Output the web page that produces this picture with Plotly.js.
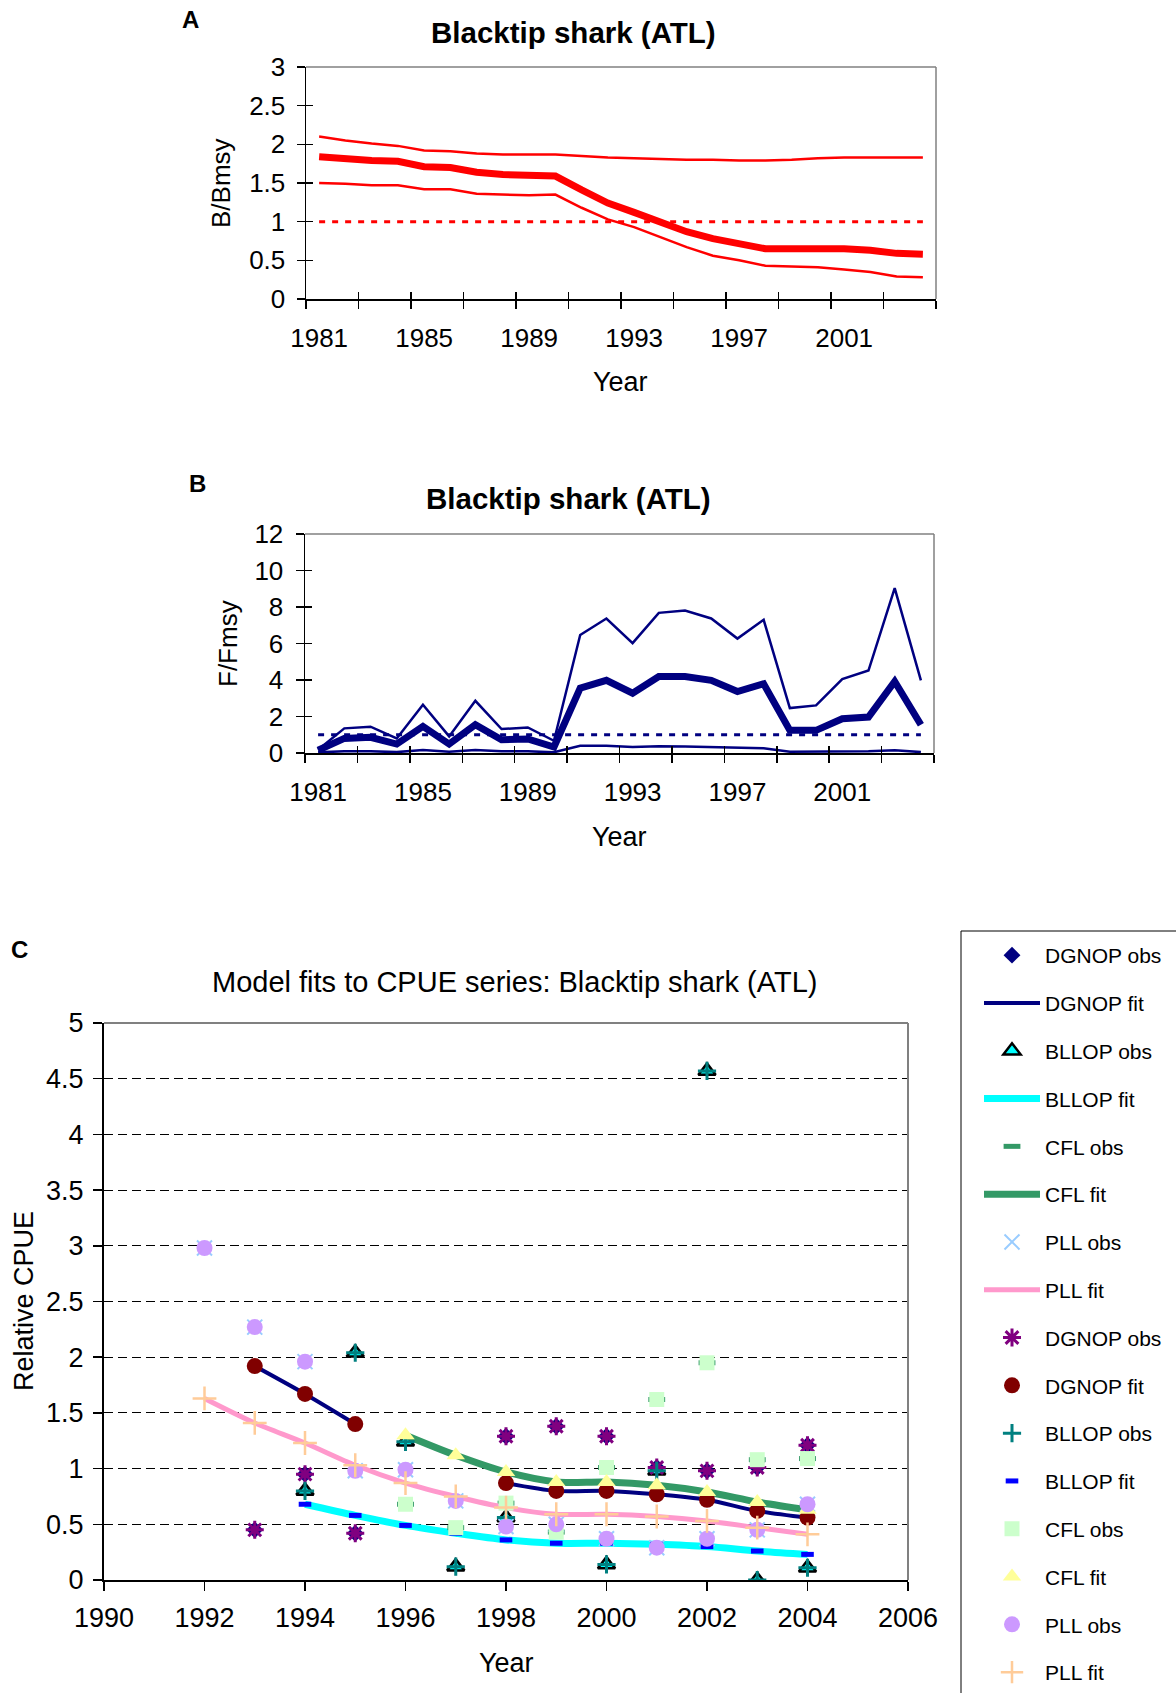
<!DOCTYPE html>
<html>
<head>
<meta charset="utf-8">
<script src="https://cdn.plot.ly/plotly-3.0.1.min.js"></script>
<style>
  html, body { margin: 0; padding: 0; background: #fff; }
  #fig { width: 1176px; height: 1693px; }
</style>
</head>
<body>
<div id="fig"></div>
<script>
// ---------- Panel A / B: stock status, 1981-2004 ----------
const years = [1981, 1982, 1983, 1984, 1985, 1986, 1987, 1988, 1989, 1990, 1991, 1992,
               1993, 1994, 1995, 1996, 1997, 1998, 1999, 2000, 2001, 2002, 2003, 2004];
const yearTickVals = [1981, 1985, 1989, 1993, 1997, 2001];
const yearTickText = ['1981', '1985', '1989', '1993', '1997', '2001'];
const categoryEdges = [1980.5, 1982.5, 1984.5, 1986.5, 1988.5, 1990.5, 1992.5,
                       1994.5, 1996.5, 1998.5, 2000.5, 2002.5, 2004.5];
const referenceLevel = 1;

// B/Bmsy: median and bounds
const bBmsyMid  = [1.84, 1.81, 1.79, 1.78, 1.71, 1.70, 1.64, 1.61, 1.59, 1.59, 1.41, 1.24,
                   1.12, 0.99, 0.87, 0.78, 0.72, 0.65, 0.65, 0.66, 0.65, 0.63, 0.59, 0.58];
const bBmsyHigh = [2.10, 2.05, 2.01, 1.98, 1.92, 1.91, 1.88, 1.87, 1.87, 1.87, 1.85, 1.83,
                   1.82, 1.81, 1.80, 1.80, 1.79, 1.79, 1.80, 1.82, 1.83, 1.83, 1.83, 1.83];
const bBmsyLow  = [1.50, 1.49, 1.47, 1.47, 1.42, 1.42, 1.36, 1.35, 1.34, 1.35, 1.18, 1.03,
                   0.93, 0.80, 0.67, 0.56, 0.50, 0.43, 0.42, 0.41, 0.38, 0.35, 0.29, 0.28];

// F/Fmsy: median and bounds
const fFmsyMid  = [0.15, 0.80, 0.86, 0.49, 1.46, 0.49, 1.55, 0.73, 0.77, 0.33, 3.56, 3.98,
                   3.28, 4.19, 4.19, 3.98, 3.37, 3.79, 1.24, 1.24, 1.88, 1.97, 3.92, 1.55];
const fFmsyHigh = [0.18, 1.35, 1.44, 0.80, 2.64, 0.91, 2.86, 1.31, 1.40, 0.67, 6.47, 7.37,
                   6.02, 7.68, 7.81, 7.37, 6.27, 7.30, 2.46, 2.61, 4.05, 4.52, 9.03, 3.98];
const fFmsyLow  = [0.04, 0.09, 0.09, 0.05, 0.16, 0.07, 0.16, 0.09, 0.09, 0.04, 0.40, 0.40,
                   0.33, 0.37, 0.35, 0.31, 0.26, 0.26, 0.07, 0.07, 0.09, 0.09, 0.15, 0.05];

// ---------- Panel C: CPUE series, 1992-2004 ----------
const cpueYears = [1992, 1993, 1994, 1995, 1996, 1997, 1998, 1999, 2000, 2001, 2002, 2003, 2004];
const dgnopObs = [null, 0.45, 0.95, 0.42, null, null, 1.29, 1.38, 1.29, 1.01, 0.98, 1.01, 1.21];
const dgnopFit = [null, 1.92, 1.67, 1.40, null, null, 0.87, 0.80, 0.80, 0.77, 0.72, 0.62, 0.56];
const bllopObs = [null, null, 0.80, 2.04, 1.24, 0.12, 0.56, null, 0.14, 0.98, 4.57, 0.00, 0.11];
const bllopFit = [null, null, 0.68, 0.58, 0.49, 0.42, 0.36, 0.33, 0.33, 0.32, 0.30, 0.26, 0.23];
const cflObs   = [null, null, null, null, 0.68, 0.47, 0.69, 0.43, 1.01, 1.62, 1.95, 1.08, 1.09];
const cflFit   = [null, null, null, null, 1.30, 1.12, 0.97, 0.88, 0.88, 0.85, 0.79, 0.70, 0.63];
const pllObs   = [2.98, 2.27, 1.96, 0.98, 0.99, 0.71, 0.48, 0.50, 0.37, 0.29, 0.37, 0.45, 0.68];
const pllFit   = [1.63, 1.41, 1.23, 1.03, 0.87, 0.75, 0.65, 0.59, 0.59, 0.57, 0.53, 0.47, 0.41];

// ---------- helpers ----------
const W = 1176, H = 1693;
const px = x => x / W;
const py = y => 1 - y / H;
const FONT = 'Liberation Sans, Arial, Helvetica, sans-serif';
const RED = '#FF0000', NAVY = '#000080';

function line(x, y, xa, ya, color, width, dash) {
  return {
    type: 'scatter', mode: 'lines', x: x, y: y, xaxis: xa, yaxis: ya,
    line: { color: color, width: width, dash: dash || 'solid' },
    showlegend: false, hoverinfo: 'skip'
  };
}
function empty(xa, ya) {
  return { type: 'scatter', mode: 'none', x: [], y: [], xaxis: xa, yaxis: ya,
           showlegend: false, hoverinfo: 'skip' };
}
let groupId = 0;
function cpueLine(name, y, color, width) {
  return {
    type: 'scatter', mode: 'lines', name: name, x: cpueYears, y: y,
    xaxis: 'x3', yaxis: 'y3', legendgroup: 'g' + (groupId++),
    line: { color: color, width: width, shape: 'spline', smoothing: 0.8 },
    hoverinfo: 'name+x+y'
  };
}
function cpueMarker(name, y, marker) {
  return {
    type: 'scatter', mode: 'markers', name: name, x: cpueYears, y: y,
    xaxis: 'x3', yaxis: 'y3', legendgroup: 'g' + (groupId++),
    marker: marker, hoverinfo: 'name+x+y'
  };
}
const refLine = years.map(() => referenceLevel);

const traces = [
  // Panel A
  line(years, bBmsyHigh, 'x', 'y', RED, 2.5),
  line(years, bBmsyLow, 'x', 'y', RED, 2.5),
  line(years, bBmsyMid, 'x', 'y', RED, 7),
  line(years, refLine, 'x', 'y', RED, 3, '6px,7px'),
  empty('x4', 'y4'),
  // Panel B
  line(years, fFmsyHigh, 'x2', 'y2', NAVY, 2.5),
  line(years, fFmsyLow, 'x2', 'y2', NAVY, 2.5),
  line(years, fFmsyMid, 'x2', 'y2', NAVY, 7),
  line(years, refLine, 'x2', 'y2', NAVY, 3, '6px,7px'),
  empty('x5', 'y5'),
  // Panel C
  cpueMarker('DGNOP obs', dgnopObs, { symbol: 'diamond', color: NAVY, size: 13 }),
  cpueLine('DGNOP fit', dgnopFit, NAVY, 4),
  cpueMarker('BLLOP obs', bllopObs, { symbol: 'triangle-up', color: '#00FFFF', size: 15,
                                      line: { color: '#000', width: 2.5 } }),
  cpueLine('BLLOP fit', bllopFit, '#00FFFF', 7),
  cpueMarker('CFL obs', cflObs, { symbol: 'line-ew-open', color: '#339966', size: 12,
                                  line: { width: 5 } }),
  cpueLine('CFL fit', cflFit, '#339966', 7),
  cpueMarker('PLL obs', pllObs, { symbol: 'x-thin-open', color: '#99CCFF', size: 15,
                                  line: { width: 2 } }),
  cpueLine('PLL fit', pllFit, '#FF99CC', 5),
  cpueMarker('DGNOP obs', dgnopObs, { symbol: 'asterisk-open', color: '#800080', size: 15,
                                      line: { width: 3 } }),
  cpueMarker('DGNOP fit', dgnopFit, { symbol: 'circle', color: '#800000', size: 16 }),
  cpueMarker('BLLOP obs', bllopObs, { symbol: 'cross-thin-open', color: '#008080', size: 13,
                                      line: { width: 3 } }),
  cpueMarker('BLLOP fit', bllopFit, { symbol: 'line-ew-open', color: '#0000FF', size: 9,
                                      line: { width: 5 } }),
  cpueMarker('CFL obs', cflObs, { symbol: 'square', color: '#CCFFCC', size: 15 }),
  cpueMarker('CFL fit', cflFit, { symbol: 'triangle-up', color: '#FFFF99', size: 16 }),
  cpueMarker('PLL obs', pllObs, { symbol: 'circle', color: '#CC99FF', size: 16 }),
  cpueMarker('PLL fit', pllFit, { symbol: 'cross-thin-open', color: '#FFCC99', size: 17,
                                  line: { width: 2.5 } })
];

// ---------- axes ----------
const noDecor = { showgrid: false, zeroline: false };
function yearAxis(domain, anchor, standoff) {
  return Object.assign({
    domain: domain, anchor: anchor, range: [1980.5, 2004.5],
    tickmode: 'array', tickvals: yearTickVals, ticktext: yearTickText, ticks: '',
    showline: true, linecolor: '#000', linewidth: 1.5,
    tickfont: { size: 26 }, ticklabelstandoff: standoff,
    minor: { tickmode: 'array', tickvals: categoryEdges, ticks: 'outside',
             ticklen: 8, tickwidth: 1.5, tickcolor: '#000' }
  }, noDecor);
}
function yearAxisInner(over, anchor) {
  return Object.assign({
    overlaying: over, anchor: anchor, range: [1980.5, 2004.5],
    tickmode: 'array', tickvals: categoryEdges, ticks: 'inside',
    ticklen: 7, tickwidth: 1.5, tickcolor: '#000',
    showticklabels: false, showline: false
  }, noDecor);
}
function valueAxis(domain, anchor, range, dtick, standoff) {
  return Object.assign({
    domain: domain, anchor: anchor, range: range, tick0: 0, dtick: dtick,
    ticks: 'outside', ticklen: 8, tickwidth: 1.5, tickcolor: '#000',
    showline: true, linecolor: '#000', linewidth: 1.5,
    tickfont: { size: 26 }, ticklabelstandoff: standoff
  }, noDecor);
}
function valueAxisInner(over, anchor, range, dtick) {
  return Object.assign({
    overlaying: over, anchor: anchor, side: 'left', range: range, tick0: 0, dtick: dtick,
    ticks: 'inside', ticklen: 7, tickwidth: 1.5, tickcolor: '#000',
    showticklabels: false, showline: false
  }, noDecor);
}

function border(xa, ya, width) {
  const base = { type: 'line', xref: xa + ' domain', yref: ya + ' domain', layer: 'above',
                 line: { color: '#808080', width: width } };
  return [
    Object.assign({ x0: 0, x1: 1, y0: 1, y1: 1 }, base),
    Object.assign({ x0: 1, x1: 1, y0: 0, y1: 1 }, base)
  ];
}

// frame around the legend of panel C (runs off the page edge)
const legendFrame = {
  type: 'rect', xref: 'paper', yref: 'paper', layer: 'below',
  x0: px(961), x1: px(1200), y0: py(1720), y1: py(931),
  line: { color: '#000', width: 1 }, fillcolor: '#fff'
};

function ann(text, x, y, size, extra) {
  return Object.assign({
    text: text, xref: 'paper', yref: 'paper', x: px(x), y: py(y),
    xanchor: 'center', yanchor: 'middle', showarrow: false,
    font: { size: size, color: '#000' }
  }, extra || {});
}

const layout = {
  width: W, height: H,
  margin: { l: 0, r: 0, t: 0, b: 0, autoexpand: false },
  paper_bgcolor: '#fff', plot_bgcolor: '#fff',
  font: { family: FONT, color: '#000', size: 26 },
  xaxis: yearAxis([px(306), px(936)], 'y', 15),
  yaxis: valueAxis([py(299), py(67)], 'x', [0, 3], 0.5, 6),
  xaxis4: yearAxisInner('x', 'y'),
  yaxis4: valueAxisInner('y', 'x', [0, 3], 0.5),
  xaxis2: yearAxis([px(305), px(934)], 'y2', 15),
  yaxis2: valueAxis([py(753), py(534)], 'x2', [0, 12], 2, 7),
  xaxis5: yearAxisInner('x2', 'y2'),
  yaxis5: valueAxisInner('y2', 'x2', [0, 12], 2),
  xaxis3: Object.assign({
    domain: [px(104), px(908)], anchor: 'y3', range: [1990, 2006], tick0: 1990, dtick: 2,
    ticks: 'outside', ticklen: 9, tickwidth: 1.5, tickcolor: '#000',
    showline: true, linecolor: '#000', linewidth: 2,
    tickfont: { size: 27 }, ticklabelstandoff: 4
  }, noDecor),
  yaxis3: {
    domain: [py(1580), py(1023)], anchor: 'x3', range: [0, 5], tick0: 0, dtick: 0.5,
    ticks: 'outside', ticklen: 9, tickwidth: 1.5, tickcolor: '#000',
    showline: true, linecolor: '#000', linewidth: 2,
    showgrid: true, gridcolor: '#000', gridwidth: 1, griddash: '9px,5px', zeroline: false,
    tickfont: { size: 27 }, ticklabelstandoff: 4
  },
  shapes: [legendFrame].concat(border('x', 'y', 1.5), border('x2', 'y2', 1.5), border('x3', 'y3', 2)),
  showlegend: true,
  legend: {
    x: px(979), y: py(935), xanchor: 'left', yanchor: 'top',
    bgcolor: 'rgba(0,0,0,0)', borderwidth: 0,
    font: { size: 21 }, itemwidth: 56, tracegroupgap: 17.5, traceorder: 'grouped',
    itemclick: false, itemdoubleclick: false
  },
  annotations: [
    ann('<b>A</b>', 190, 20, 24),
    ann('<b>Blacktip shark (ATL)</b>', 573, 32, 29.5),
    ann('B/Bmsy', 221, 183, 26, { textangle: -90 }),
    ann('Year', 621, 382, 27),
    ann('<b>B</b>', 197, 483, 24),
    ann('<b>Blacktip shark (ATL)</b>', 568, 498, 29.5),
    ann('F/Fmsy', 228, 644, 26, { textangle: -90 }),
    ann('Year', 619, 837, 27),
    ann('<b>C</b>', 19, 950, 24),
    ann('Model fits to CPUE series: Blacktip shark (ATL)', 514, 982, 29),
    ann('Relative CPUE', 24, 1301, 27, { textangle: -90 }),
    ann('Year', 506, 1663, 27)
  ]
};

Plotly.newPlot('fig', traces, layout, { displayModeBar: false, staticPlot: true });
</script>
</body>
</html>
